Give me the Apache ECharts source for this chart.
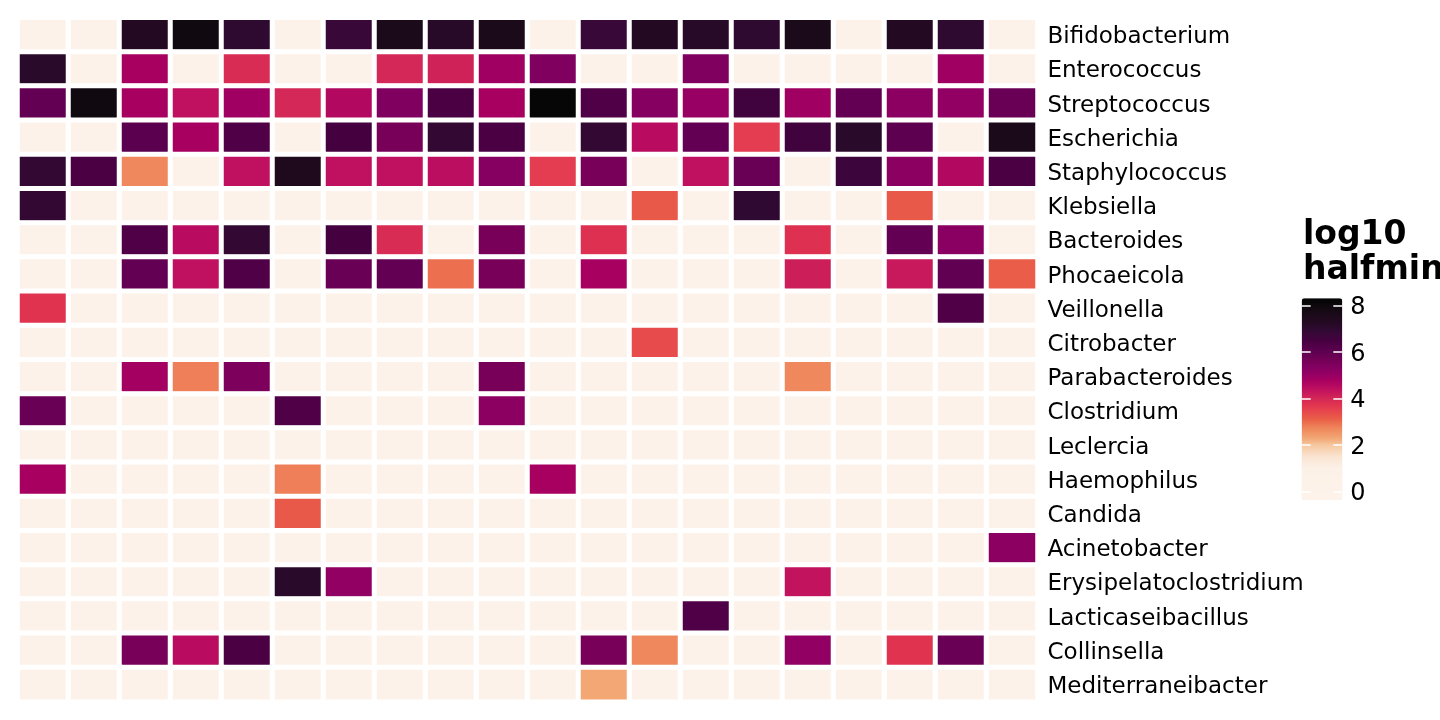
<!DOCTYPE html>
<html>
<head>
<meta charset="utf-8">
<script src="https://cdn.jsdelivr.net/npm/echarts@6/dist/echarts.min.js"></script>
<style>
html, body { margin: 0; padding: 0; background: #fff; }
#main { width: 1440px; height: 720px; }
</style>
</head>
<body>
<div id="main"></div>
<script>
// 菌属（从上到下）
var genera = ['Bifidobacterium', 'Enterococcus', 'Streptococcus', 'Escherichia', 'Staphylococcus',
    'Klebsiella', 'Bacteroides', 'Phocaeicola', 'Veillonella', 'Citrobacter', 'Parabacteroides',
    'Clostridium', 'Leclercia', 'Haemophilus', 'Candida', 'Acinetobacter', 'Erysipelatoclostridium',
    'Lacticaseibacillus', 'Collinsella', 'Mediterraneibacter'];

// 样本（列，图中没有标签）
var samples = ['S1', 'S2', 'S3', 'S4', 'S5', 'S6', 'S7', 'S8', 'S9', 'S10',
    'S11', 'S12', 'S13', 'S14', 'S15', 'S16', 'S17', 'S18', 'S19', 'S20'];

// log10 halfmin, 每行对应一个菌属
var halfmin = [
    [0, 0, 7.3, 7.9, 7.0, 0, 6.8, 7.6, 7.2, 7.6, 0, 6.8, 7.3, 7.2, 7.0, 7.6, 0, 7.3, 7.0, 0],
    [7.1, 0, 4.8, 0, 3.9, 0, 0, 4.0, 4.1, 4.9, 5.4, 0, 0, 5.4, 0, 0, 0, 0, 4.9, 0],
    [5.9, 7.9, 4.8, 4.4, 4.9, 4.0, 4.6, 5.4, 6.4, 4.8, 8.2, 6.3, 5.3, 5.0, 6.6, 4.9, 5.9, 5.2, 5.1, 5.8],
    [0, 0, 6.1, 4.8, 6.3, 0, 6.5, 5.6, 6.9, 6.4, 0, 6.9, 4.5, 5.9, 3.6, 6.6, 7.1, 6.0, 0, 7.6],
    [6.9, 6.4, 2.7, 0, 4.4, 7.5, 4.4, 4.4, 4.45, 5.3, 3.6, 5.6, 0, 4.4, 5.8, 0, 6.7, 5.2, 4.6, 6.4],
    [6.9, 0, 0, 0, 0, 0, 0, 0, 0, 0, 0, 0, 3.2, 0, 6.95, 0, 0, 3.2, 0, 0],
    [0, 0, 6.3, 4.5, 6.9, 0, 6.5, 3.9, 0, 5.6, 0, 3.8, 0, 0, 0, 3.8, 0, 5.9, 5.25, 0],
    [0, 0, 5.9, 4.4, 6.3, 0, 5.8, 5.9, 2.95, 5.6, 0, 4.8, 0, 0, 0, 4.15, 0, 4.25, 5.95, 3.15],
    [3.75, 0, 0, 0, 0, 0, 0, 0, 0, 0, 0, 0, 0, 0, 0, 0, 0, 0, 6.3, 0],
    [0, 0, 0, 0, 0, 0, 0, 0, 0, 0, 0, 0, 3.4, 0, 0, 0, 0, 0, 0, 0],
    [0, 0, 4.85, 2.8, 5.5, 0, 0, 0, 0, 5.6, 0, 0, 0, 0, 0, 2.7, 0, 0, 0, 0],
    [5.8, 0, 0, 0, 0, 6.3, 0, 0, 0, 5.2, 0, 0, 0, 0, 0, 0, 0, 0, 0, 0],
    [0, 0, 0, 0, 0, 0, 0, 0, 0, 0, 0, 0, 0, 0, 0, 0, 0, 0, 0, 0],
    [4.8, 0, 0, 0, 0, 2.8, 0, 0, 0, 0, 4.8, 0, 0, 0, 0, 0, 0, 0, 0, 0],
    [0, 0, 0, 0, 0, 3.2, 0, 0, 0, 0, 0, 0, 0, 0, 0, 0, 0, 0, 0, 0],
    [0, 0, 0, 0, 0, 0, 0, 0, 0, 0, 0, 0, 0, 0, 0, 0, 0, 0, 0, 5.2],
    [0, 0, 0, 0, 0, 7.1, 5.1, 0, 0, 0, 0, 0, 0, 0, 0, 4.35, 0, 0, 0, 0],
    [0, 0, 0, 0, 0, 0, 0, 0, 0, 0, 0, 0, 0, 6.3, 0, 0, 0, 0, 0, 0],
    [0, 0, 5.6, 4.5, 6.4, 0, 0, 0, 0, 0, 0, 5.6, 2.7, 0, 0, 5.1, 0, 3.75, 5.8, 0],
    [0, 0, 0, 0, 0, 0, 0, 0, 0, 0, 0, 2.3, 0, 0, 0, 0, 0, 0, 0, 0]
];

var legendTicks = [0, 2, 4, 6, 8];
var scaleMin = -0.36, scaleMax = 8.32;

// 颜色带 (rocket 反向)
var stops = [[-0.4, '#FDF3EA'], [1.0, '#FCF1E7'], [1.5, '#FAE4D2'], [2.0, '#F6C8A0'], [2.3, '#F2A674'],
    [2.6, '#F09062'], [2.8, '#EE8058'], [3.1, '#EA6048'], [3.3, '#E8524A'], [3.6, '#E43C50'],
    [3.8, '#DE3050'], [4.0, '#D42858'], [4.2, '#CA1C5A'], [4.4, '#C01060'], [4.6, '#B20860'],
    [4.8, '#A80060'], [5.0, '#980064'], [5.2, '#8C0062'], [5.4, '#800060'], [5.6, '#780058'],
    [5.8, '#6A0055'], [6.0, '#5E0050'], [6.3, '#500048'], [6.5, '#45003F'], [6.8, '#380838'],
    [7.0, '#2E0A30'], [7.3, '#230A22'], [7.5, '#1E0A1C'], [7.8, '#150A14'], [8.2, '#060606'], [8.5, '#040404']];

function hex2rgb(h) {
    return [parseInt(h.substr(1, 2), 16), parseInt(h.substr(3, 2), 16), parseInt(h.substr(5, 2), 16)];
}
function colorAt(v) {
    for (var i = 1; i < stops.length; i++) {
        if (v <= stops[i][0]) {
            var a = hex2rgb(stops[i - 1][1]), b = hex2rgb(stops[i][1]);
            var t = (v - stops[i - 1][0]) / (stops[i][0] - stops[i - 1][0]);
            return 'rgb(' + [0, 1, 2].map(function (k) { return Math.round(a[k] + (b[k] - a[k]) * t); }).join(',') + ')';
        }
    }
    return stops[stops.length - 1][1];
}
var ramp = [];
for (var i = 0; i <= 175; i++) {
    ramp.push(colorAt(scaleMin + (scaleMax - scaleMin) * i / 175));
}

var cells = [];
halfmin.forEach(function (row, y) {
    row.forEach(function (v, x) {
        cells.push([x, y, v]);
    });
});

var font = 'DejaVu Sans';
var chart = echarts.init(document.getElementById('main'));
chart.setOption({
    backgroundColor: '#fff',
    animation: false,
    title: {
        text: 'log10\nhalfmin',
        left: 1303,
        top: 218,
        padding: 0,
        textStyle: { fontFamily: font, fontSize: 33, fontWeight: 'bold', lineHeight: 35, color: '#000' }
    },
    grid: [
        { left: 17.5, top: 17.7, width: 1020, height: 684 },
        { left: 1301.7, top: 305.7, width: 40.6, height: 186 }
    ],
    xAxis: [
        { type: 'category', data: samples, gridIndex: 0, show: false },
        { type: 'value', gridIndex: 1, show: false, min: 0, max: 1 }
    ],
    yAxis: [
        {
            type: 'category', data: genera, gridIndex: 0, inverse: true, position: 'right',
            axisLine: { show: false }, axisTick: { show: false }, splitLine: { show: false },
            axisLabel: { fontFamily: font, fontSize: 23, color: '#000', margin: 10, verticalAlign: 'top', lineHeight: 5 }
        },
        {
            type: 'value', gridIndex: 1, position: 'left', min: 0, max: 8, interval: 2, z: 10,
            axisLine: { show: false }, splitLine: { show: false }, axisLabel: { show: false },
            axisTick: { show: true, inside: true, length: 9, lineStyle: { color: '#fff', width: 1.5 } }
        },
        {
            type: 'value', gridIndex: 1, position: 'right', min: 0, max: 8, interval: 2, z: 10,
            axisLine: { show: false }, splitLine: { show: false },
            axisTick: { show: true, inside: true, length: 9, lineStyle: { color: '#fff', width: 1.5 } },
            axisLabel: {
                fontFamily: font, fontSize: 24, color: '#000', margin: 8, verticalAlign: 'top', lineHeight: 5,
                formatter: function (v) { return legendTicks.indexOf(v) >= 0 ? String(v) : ''; }
            }
        }
    ],
    visualMap: {
        type: 'continuous',
        min: scaleMin,
        max: scaleMax,
        seriesIndex: 0,
        calculable: false,
        orient: 'vertical',
        left: 1301.7,
        top: 298.3,
        itemWidth: 40.6,
        itemHeight: 201.7,
        padding: 0,
        inRange: { color: ramp }
    },
    series: [{
        type: 'heatmap',
        xAxisIndex: 0,
        yAxisIndex: 0,
        data: cells,
        itemStyle: { borderColor: '#fff', borderWidth: 5 },
        emphasis: { disabled: true }
    }]
});
</script>
</body>
</html>
